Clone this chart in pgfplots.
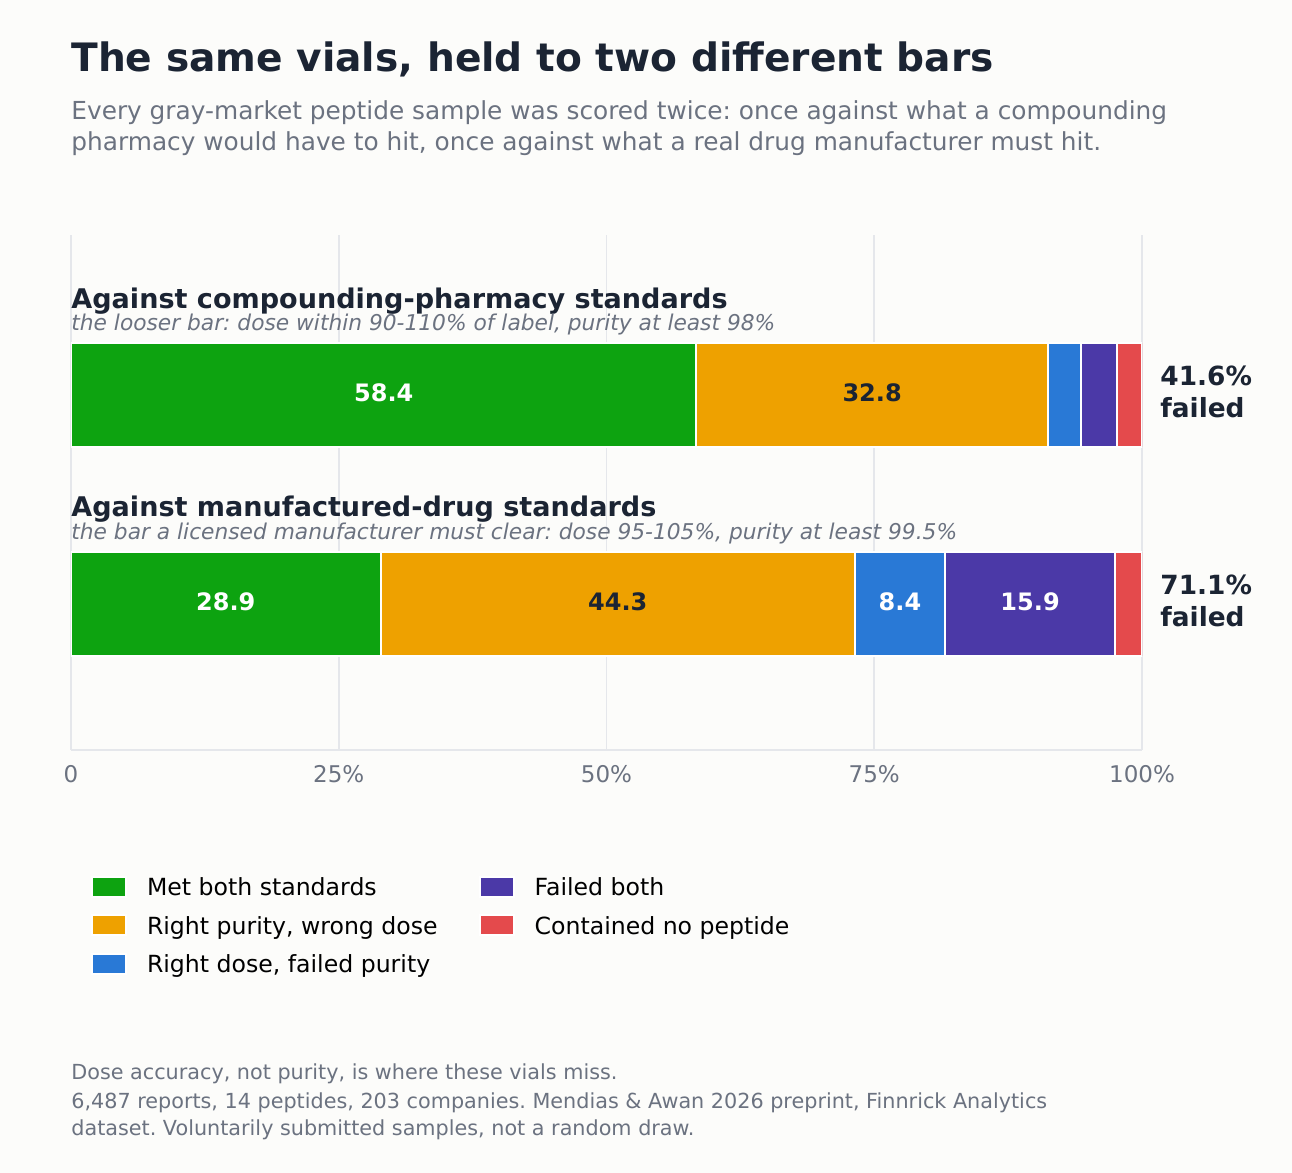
\documentclass[border=0pt]{standalone}
\usepackage{pgfplots}
\pgfplotsset{compat=1.18}
\usepackage{fontspec}
\setmainfont{DejaVu Sans}
\frenchspacing
\definecolor{bgc}{HTML}{FCFCFA}
\definecolor{titlec}{HTML}{1B2433}
\definecolor{grayc}{HTML}{6B7280}
\definecolor{gridc}{HTML}{E5E7EB}
\definecolor{cgreen}{RGB}{13,163,16}
\definecolor{corange}{RGB}{238,161,0}
\definecolor{cblue}{RGB}{41,121,214}
\definecolor{cpurple}{RGB}{75,57,167}
\definecolor{cred}{RGB}{228,74,76}
\tikzset{vlab/.style={font=\fontsize{12}{14}\selectfont\bfseries, inner sep=0pt, yshift=1pt},
  flab/.style={anchor=west, align=left, inner sep=0pt, xshift=9pt, yshift=1.5pt, text=titlec,
  font=\fontsize{13.2}{15.8}\selectfont\bfseries}}
\begin{document}
\begin{tikzpicture}[x=0.5pt,y=0.5pt]
\path[use as bounding box, fill=bgc] (0,0) rectangle (1292,1173);
\begin{axis}[
  at={(35.5pt,211.5pt)}, anchor=south west,
  scale only axis, width=535.5pt, height=257.5pt,
  xbar stacked, bar width=52pt,
  xmin=0, xmax=100, ymin=-0.6986, ymax=1.7656,
  enlargelimits=false,
  axis x line*=bottom, axis y line=none,
  x axis line style={-, draw=gridc, line width=0.9pt},
  xmajorgrids, grid style={draw=gridc, line width=0.9pt},
  major tick length=0pt, tick style={draw=none},
  xtick={0,25,50,75,100},
  xticklabels={0,25\%,50\%,75\%,100\%},
  ytick=\empty,
  xticklabel style={font=\fontsize{11.5}{13}\selectfont, text=grayc, yshift=-4pt},
  transpose legend,
  legend columns=3,
  legend cell align=left,
  legend image code/.code={\fill[#1] (0pt,-5pt) rectangle (17pt,5pt);},
  legend style={at={(0,0)}, anchor=north west, xshift=10pt, yshift=-63pt,
    draw=none, fill=none, inner sep=0pt, outer sep=0pt,
    font=\fontsize{11.8}{14}\selectfont, text=black,
    column sep=10pt, /tikz/every even column/.append style={column sep=20.5pt},
    row sep=8.25pt,
    nodes={inner sep=0pt, text height=8.6pt, text depth=0pt}},
]
\addplot[fill=cgreen, draw=white, line width=1pt] coordinates {(58.4,1) (28.9,0)};
\addlegendentry{Met both standards}
\addplot[fill=corange, draw=white, line width=1pt] coordinates {(32.8,1) (44.3,0)};
\addlegendentry{Right purity, wrong dose}
\addplot[fill=cblue, draw=white, line width=1pt] coordinates {(3.1,1) (8.4,0)};
\addlegendentry{Right dose, failed purity}
\addplot[fill=cpurple, draw=white, line width=1pt] coordinates {(3.4,1) (15.9,0)};
\addlegendentry{Failed both}
\addplot[fill=cred, draw=white, line width=1pt] coordinates {(2.3,1) (2.5,0)};
\addlegendentry{Contained no peptide}

\coordinate (l1) at (axis cs:29.2,1);
\coordinate (l2) at (axis cs:74.8,1);
\coordinate (l3) at (axis cs:14.45,0);
\coordinate (l4) at (axis cs:51.05,0);
\coordinate (l5) at (axis cs:77.4,0);
\coordinate (l6) at (axis cs:89.55,0);
\coordinate (f1) at (axis cs:100,1);
\coordinate (f2) at (axis cs:100,0);
\end{axis}

\node[vlab, text=white] at (l1) {58.4};
\node[vlab, text=titlec] at (l2) {32.8};
\node[vlab, text=white] at (l3) {28.9};
\node[vlab, text=titlec] at (l4) {44.3};
\node[vlab, text=white] at (l5) {8.4};
\node[vlab, text=white] at (l6) {15.9};
\node[flab] at (f1) {41.6\%\\failed};
\node[flab] at (f2) {71.1\%\\failed};

\node[anchor=base west, inner sep=0pt, text=titlec, font=\fontsize{19.56}{24}\selectfont\bfseries] at (71,1101) {The same vials, held to two different bars};
\node[anchor=base west, inner sep=0pt, text=grayc, font=\fontsize{12.4}{14}\selectfont] at (71,1053.7) {Every gray-market peptide sample was scored twice: once against what a compounding};
\node[anchor=base west, inner sep=0pt, text=grayc, font=\fontsize{12.4}{14}\selectfont] at (71,1022) {pharmacy would have to hit, once against what a real drug manufacturer must hit.};

\node[anchor=base west, inner sep=0pt, text=titlec, font=\fontsize{13.53}{16}\selectfont\bfseries] at (71,864.7) {Against compounding-pharmacy standards};
\node[anchor=base west, inner sep=0pt, text=grayc, font=\fontsize{10.87}{12}\selectfont\itshape] at (71,842.3) {the looser bar: dose within 90-110\% of label, purity at least 98\%};
\node[anchor=base west, inner sep=0pt, text=titlec, font=\fontsize{13.53}{16}\selectfont\bfseries] at (71,656) {Against manufactured-drug standards};
\node[anchor=base west, inner sep=0pt, text=grayc, font=\fontsize{10.87}{12}\selectfont\itshape] at (71,633) {the bar a licensed manufacturer must clear: dose 95-105\%, purity at least 99.5\%};

\node[anchor=base west, inner sep=0pt, text=grayc, font=\fontsize{10.37}{12}\selectfont] at (71,93) {Dose accuracy, not purity, is where these vials miss.};
\node[anchor=base west, inner sep=0pt, text=grayc, font=\fontsize{10.37}{12}\selectfont] at (71,64.7) {6,487 reports, 14 peptides, 203 companies. Mendias \& Awan 2026 preprint, Finnrick Analytics};
\node[anchor=base west, inner sep=0pt, text=grayc, font=\fontsize{10.37}{12}\selectfont] at (71,37) {dataset. Voluntarily submitted samples, not a random draw.};
\end{tikzpicture}
\end{document}
